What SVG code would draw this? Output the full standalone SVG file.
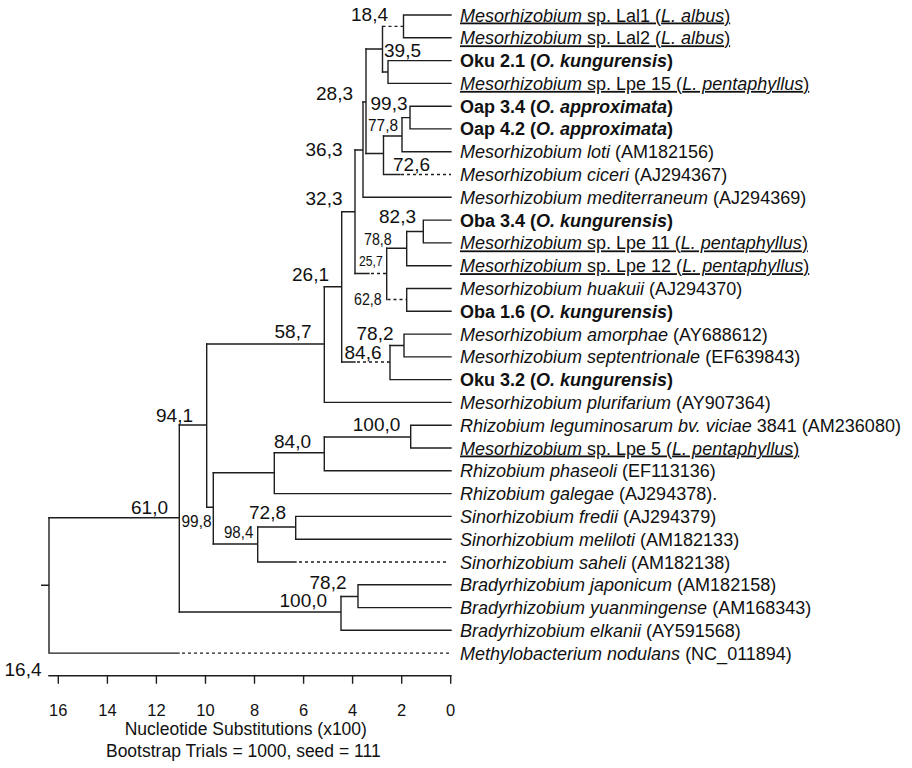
<svg xmlns="http://www.w3.org/2000/svg" width="912" height="768" viewBox="0 0 912 768">
<style>
.b{fill:none;stroke:#1e1e1e;stroke-width:1.4;stroke-linecap:square}
.d{fill:none;stroke:#1e1e1e;stroke-width:1.4;stroke-dasharray:3 3}
text{font-family:"Liberation Sans",Arial,sans-serif;fill:#111}
.lf{font-size:18px}
.bs{font-size:19px}
.bc{font-size:17px}
.ax{font-size:16.5px}
.ti{font-size:17.5px}
.i{font-style:italic}
.bo{font-weight:bold}
.u{text-decoration:underline}
</style>
<rect width="912" height="768" fill="#fff"/>
<g id="branches">
<path class="b" d="M403.5 15V37.8M403.5 15H451M403.5 37.8H451"/>
<path class="d" d="M382.5 26.4H403.5"/>
<path class="b" d="M388 60.6V83.4M388 60.6H451M388 83.4H451M382.5 72H388"/>
<path class="b" d="M382.5 26.4V72M366 49H382.5"/>
<path class="b" d="M410 106.2V128.9M410 106.2H451M410 128.9H451M402 117.6H410"/>
<path class="b" d="M402 117.6V151.7M402 151.7H451M383.5 136H402"/>
<path class="b" d="M383.5 136V174.5M383.5 174.5H400M366 153.5H383.5"/>
<path class="d" d="M401 174.5H451"/>
<path class="b" d="M366 49V153.5M363 102H366"/>
<path class="b" d="M363 102V197.3M363 197.3H451M355 150H363"/>
<path class="b" d="M423.3 220.1V242.9M423.3 220.1H451M423.3 242.9H451M406.7 231.5H423.3"/>
<path class="b" d="M406.7 231.5V265.7M406.7 265.7H451M386.7 248.3H406.7"/>
<path class="b" d="M406.7 288.5V311.3M406.7 288.5H451M406.7 311.3H451"/>
<path class="d" d="M387.5 299.5H406"/>
<path class="b" d="M386.7 248.3V299.5M355 273.5H369"/>
<path class="d" d="M371 273.5H386.7"/>
<path class="b" d="M355 150V273.5M341.7 211.7H355"/>
<path class="b" d="M404 334.1V356.9M404 334.1H451M404 356.9H451M390 345.5H404"/>
<path class="b" d="M390 345.5V379.6M390 379.6H451M341.7 362H355M388 362H390"/>
<path class="d" d="M357 362H388"/>
<path class="b" d="M341.7 211.7V362M324.3 286.7H341.7"/>
<path class="b" d="M324.3 286.7V402.4M324.3 402.4H451M206.7 344H324.3"/>
<path class="b" d="M410.7 425.2V448M410.7 425.2H451M410.7 448H451M324.3 437H410.7"/>
<path class="b" d="M324.3 437V470.8M324.3 470.8H451M274.3 452.7H324.3"/>
<path class="b" d="M274.3 452.7V493.6M274.3 493.6H451M213.3 472.7H274.3"/>
<path class="b" d="M295.7 516.4V539.2M295.7 516.4H451M295.7 539.2H451M257.7 527H295.7"/>
<path class="b" d="M257.7 527V562M257.7 562H296M213.3 544H257.7"/>
<path class="d" d="M299 562H449"/>
<path class="b" d="M213.3 472.7V544M206.7 507.3H213.3"/>
<path class="b" d="M206.7 344V507.3M179.3 425H206.7"/>
<path class="b" d="M358 584.8V607.6M358 584.8H451M358 607.6H451M341 596.5H358"/>
<path class="b" d="M341 596.5V630.3M341 630.3H451M179.3 612H341"/>
<path class="b" d="M179.3 425V612M49 517.7H179.3"/>
<path class="b" d="M49 517.7V653.1M41.7 585.3H49M49 653.1H179"/>
<path class="d" d="M182 653.1H449"/>
</g>
<g id="bootstrap">
<text class="bs" x="351" y="21">18,4</text>
<text class="bs" x="384" y="57">39,5</text>
<text class="bs" x="316" y="100">28,3</text>
<text class="bs" x="370.5" y="110">99,3</text>
<text class="bc" x="368" y="131" textLength="30" lengthAdjust="spacingAndGlyphs">77,8</text>
<text class="bs" x="305.5" y="156">36,3</text>
<text class="bs" x="393" y="170.5">72,6</text>
<text class="bs" x="305.5" y="205">32,3</text>
<text class="bs" x="379" y="222.5">82,3</text>
<text class="bc" x="364" y="245" textLength="27.7" lengthAdjust="spacingAndGlyphs">78,8</text>
<text class="bc" x="359" y="265.5" style="font-size:15px" textLength="23.7" lengthAdjust="spacingAndGlyphs">25,7</text>
<text class="bs" x="292" y="280.7">26,1</text>
<text class="bc" x="354" y="305" textLength="27.7" lengthAdjust="spacingAndGlyphs">62,8</text>
<text class="bs" x="274.5" y="338.3">58,7</text>
<text class="bs" x="356.5" y="339.7">78,2</text>
<text class="bs" x="344.5" y="358.7">84,6</text>
<text class="bs" x="156" y="421.7">94,1</text>
<text class="bs" x="352.8" y="430.7">100,0</text>
<text class="bs" x="274" y="448">84,0</text>
<text class="bs" x="131" y="514">61,0</text>
<text class="bs" x="249" y="519">72,8</text>
<text class="bc" x="181.5" y="527" textLength="30" lengthAdjust="spacingAndGlyphs">99,8</text>
<text class="bc" x="224" y="538" textLength="29.3" lengthAdjust="spacingAndGlyphs">98,4</text>
<text class="bs" x="309.5" y="589">78,2</text>
<text class="bs" x="279.5" y="607">100,0</text>
<text class="bs" x="4.5" y="676">16,4</text>
</g>
<g id="leaf-01"><text class="lf u" x="460" y="21.5"><tspan class="i">Mesorhizobium</tspan> sp. Lal1 (<tspan class="i">L. albus</tspan>)</text></g>
<g id="leaf-02"><text class="lf u" x="460" y="44.3"><tspan class="i">Mesorhizobium</tspan> sp. Lal2 (<tspan class="i">L. albus</tspan>)</text></g>
<g id="leaf-03"><text class="lf bo" x="460" y="67.1">Oku 2.1 (<tspan class="i">O. kungurensis</tspan>)</text></g>
<g id="leaf-04"><text class="lf u" x="460" y="89.9"><tspan class="i">Mesorhizobium</tspan> sp. Lpe 15 (<tspan class="i">L. pentaphyllus</tspan>)</text></g>
<g id="leaf-05"><text class="lf bo" x="460" y="112.7">Oap 3.4 (<tspan class="i">O. approximata</tspan>)</text></g>
<g id="leaf-06"><text class="lf bo" x="460" y="135.4">Oap 4.2 (<tspan class="i">O. approximata</tspan>)</text></g>
<g id="leaf-07"><text class="lf" x="460" y="158.2"><tspan class="i">Mesorhizobium loti</tspan><tspan dx="5">(AM182156)</tspan></text></g>
<g id="leaf-08"><text class="lf" x="460" y="181"><tspan class="i">Mesorhizobium ciceri</tspan> (AJ294367)</text></g>
<g id="leaf-09"><text class="lf" x="460" y="203.8"><tspan class="i">Mesorhizobium mediterraneum</tspan> (AJ294369)</text></g>
<g id="leaf-10"><text class="lf bo" x="460" y="226.6">Oba 3.4 (<tspan class="i">O. kungurensis</tspan>)</text></g>
<g id="leaf-11"><text class="lf u" x="460" y="249.4"><tspan class="i">Mesorhizobium</tspan> sp. Lpe 11 (<tspan class="i">L. pentaphyllus</tspan>)</text></g>
<g id="leaf-12"><text class="lf u" x="460" y="272.2"><tspan class="i">Mesorhizobium</tspan> sp. Lpe 12 (<tspan class="i">L. pentaphyllus</tspan>)</text></g>
<g id="leaf-13"><text class="lf" x="460" y="295"><tspan class="i">Mesorhizobium huakuii</tspan> (AJ294370)</text></g>
<g id="leaf-14"><text class="lf bo" x="460" y="317.8">Oba 1.6 (<tspan class="i">O. kungurensis</tspan>)</text></g>
<g id="leaf-15"><text class="lf" x="460" y="340.6"><tspan class="i">Mesorhizobium amorphae</tspan> (AY688612)</text></g>
<g id="leaf-16"><text class="lf" x="460" y="363.4"><tspan class="i">Mesorhizobium septentrionale</tspan> (EF639843)</text></g>
<g id="leaf-17"><text class="lf bo" x="460" y="386.1">Oku 3.2 (<tspan class="i">O. kungurensis</tspan>)</text></g>
<g id="leaf-18"><text class="lf" x="460" y="408.9"><tspan class="i">Mesorhizobium plurifarium</tspan> (AY907364)</text></g>
<g id="leaf-19"><text class="lf" x="460" y="431.7"><tspan class="i">Rhizobium leguminosarum bv. viciae</tspan> 3841 (AM236080)</text></g>
<g id="leaf-20"><text class="lf u" x="460" y="454.5"><tspan class="i">Mesorhizobium</tspan> sp. Lpe 5 (<tspan class="i">L. pentaphyllus</tspan>)</text></g>
<g id="leaf-21"><text class="lf" x="460" y="477.3"><tspan class="i">Rhizobium phaseoli</tspan> (EF113136)</text></g>
<g id="leaf-22"><text class="lf" x="460" y="500.1"><tspan class="i">Rhizobium galegae</tspan> (AJ294378).</text></g>
<g id="leaf-23"><text class="lf" x="460" y="522.9"><tspan class="i">Sinorhizobium fredii</tspan> (AJ294379)</text></g>
<g id="leaf-24"><text class="lf" x="460" y="545.7"><tspan class="i">Sinorhizobium meliloti</tspan> (AM182133)</text></g>
<g id="leaf-25"><text class="lf" x="460" y="568.5"><tspan class="i">Sinorhizobium saheli</tspan> (AM182138)</text></g>
<g id="leaf-26"><text class="lf" x="460" y="591.3"><tspan class="i">Bradyrhizobium japonicum</tspan> (AM182158)</text></g>
<g id="leaf-27"><text class="lf" x="460" y="614.1"><tspan class="i">Bradyrhizobium yuanmingense</tspan> (AM168343)</text></g>
<g id="leaf-28"><text class="lf" x="460" y="636.8"><tspan class="i">Bradyrhizobium elkanii</tspan> (AY591568)</text></g>
<g id="leaf-29"><text class="lf" x="460" y="659.6"><tspan class="i">Methylobacterium nodulans</tspan> (NC_011894)</text></g>
<g id="scale">
<path class="b" d="M49 675.7H451M58.3 675.7V683M107.4 675.7V683M156.4 675.7V683M205.5 675.7V683M254.5 675.7V683M303.6 675.7V683M352.6 675.7V683M401.7 675.7V683M450.7 675.7V683"/>
<g class="ax" text-anchor="middle">
<text x="58.3" y="716">16</text>
<text x="107.4" y="716">14</text>
<text x="156.4" y="716">12</text>
<text x="205.5" y="716">10</text>
<text x="254.5" y="716">8</text>
<text x="303.6" y="716">6</text>
<text x="352.6" y="716">4</text>
<text x="401.7" y="716">2</text>
<text x="450.7" y="716">0</text>
</g>
<text class="ti" x="245.8" y="735" text-anchor="middle">Nucleotide Substitutions (x100)</text>
<text class="ti" x="243.3" y="757" text-anchor="middle">Bootstrap Trials = 1000, seed = 111</text>
</g>
</svg>
